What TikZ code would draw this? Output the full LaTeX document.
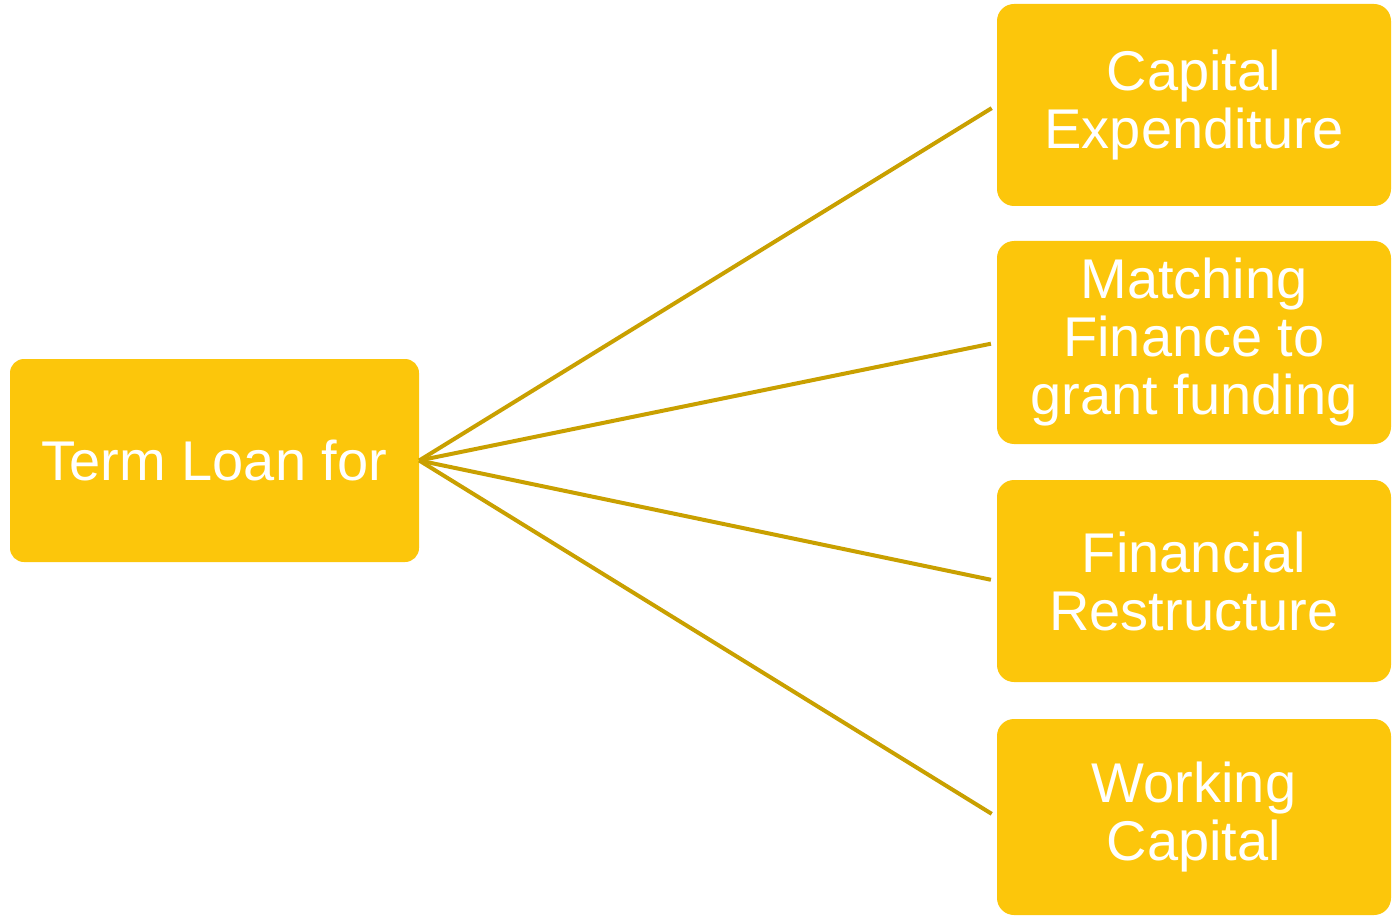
\documentclass[tikz,border=0pt]{standalone}
\usepackage{fontspec}
\setmainfont{Liberation Sans}
\definecolor{boxfill}{HTML}{FCC60B}
\definecolor{linkcol}{HTML}{C9A000}
\tikzset{
  box/.style={rectangle, fill=boxfill, draw=none, inner sep=0pt, align=center,
    text=white, font=\fontsize{56}{58}\selectfont},
  rbox/.style={box, rounded corners=17pt, minimum width=394pt},
  lbox/.style={box, rounded corners=14pt, minimum width=409pt, minimum height=203pt},
  link/.style={draw=linkcol, line width=4pt, shorten >=6pt}
}
\begin{document}
\begin{tikzpicture}[x=1pt,y=-1pt]
\useasboundingbox (0,0) rectangle (1392,917);
\node[lbox] (root) at (214.5,460.5) {Term Loan for};
\node[rbox, minimum height=202pt] (a) at (1194,105) {Capital\\Expenditure};
\node[rbox, minimum height=203pt] (b) at (1194,342.5) {Matching\\Finance to\\grant funding};
\node[rbox, minimum height=202pt] (c) at (1194,581) {Financial\\Restructure};
\node[rbox, minimum height=196pt] (d) at (1194,817) {Working\\Capital};
\foreach \t in {a,b,c,d}{
  \draw[link] (root.east) -- (\t.west);
}
\end{tikzpicture}
\end{document}
